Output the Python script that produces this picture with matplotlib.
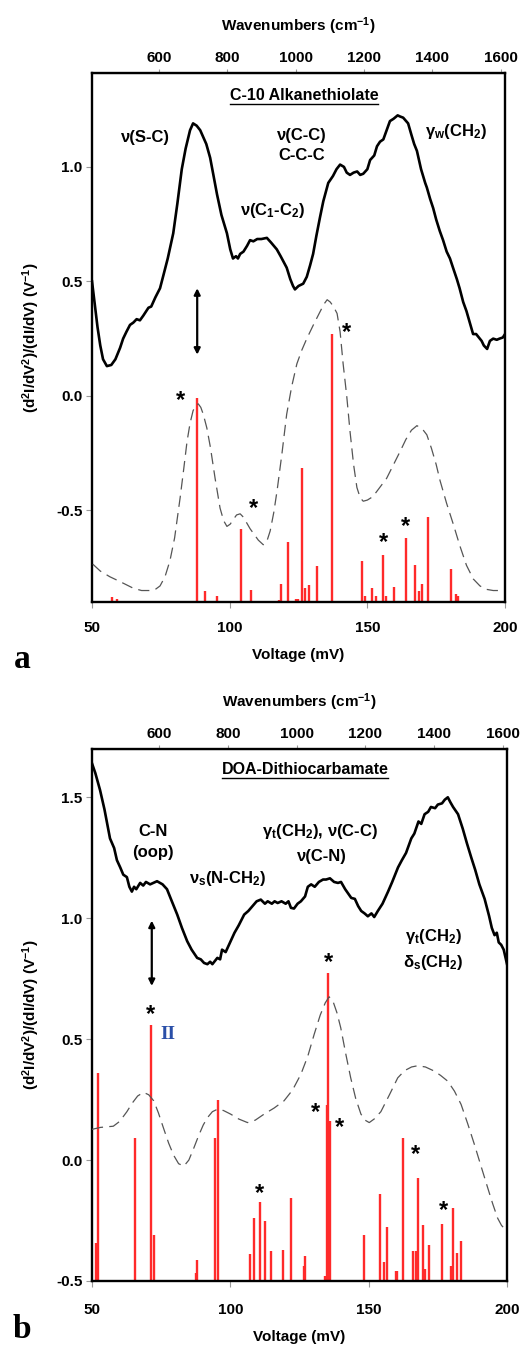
import numpy as np
import matplotlib
matplotlib.use("Agg")
import matplotlib.pyplot as plt
from matplotlib.ticker import FormatStrFormatter

plt.rcParams["font.family"] = ["Liberation Sans", "DejaVu Sans"]
plt.rcParams["font.weight"] = "bold"
plt.rcParams["mathtext.default"] = "regular"
plt.rcParams["axes.unicode_minus"] = False

MEV_TO_CM = 8.0655  # 1 mV -> cm-1

# =========================================================
# DATA  (a) C-10 alkanethiolate
# =========================================================

a_exp_v = [50.0, 51.0, 52.0, 53.0, 54.0, 55.4, 57.0, 58.5, 60.2, 61.3, 62.5, 63.8, 65.0, 66.2,
           67.4, 68.6, 70.5, 71.5, 73.0, 74.7, 76.0, 77.5, 79.5, 81.0, 82.6, 84.0, 85.6, 86.7,
           88.0, 89.3, 90.4, 91.5, 92.9, 94.0, 95.4, 97.0, 99.0, 100.2, 101.2, 102.3, 103.0,
           103.8, 105.0, 106.3, 107.4, 108.6, 110.0, 111.5, 113.5, 115.0, 117.1, 118.5, 120.7,
           122.0, 123.0, 123.7, 125.0, 126.7, 128.0, 129.2, 130.3, 131.5, 132.8, 134.0, 135.8,
           137.5, 138.8, 140.1, 141.5, 142.5, 143.7, 145.0, 146.3, 147.4, 148.5, 150.0, 151.0,
           152.5, 153.5, 154.6, 155.8, 157.0, 158.2, 159.5, 161.0, 161.9, 163.0, 164.8, 166.0,
           167.0, 168.0, 169.5, 171.0, 171.6, 172.8, 173.9, 175.0, 176.3, 177.5, 178.8, 180.0,
           181.1, 182.5, 183.5, 184.8, 186.0, 187.2, 188.4, 189.5, 190.5, 191.5, 192.3, 193.5,
           194.5, 195.7, 197.0, 198.0, 199.2, 200.0]
a_exp_y = [0.50, 0.40, 0.30, 0.22, 0.16, 0.13, 0.135, 0.16, 0.21, 0.25, 0.28, 0.31, 0.32, 0.335,
           0.33, 0.35, 0.385, 0.39, 0.43, 0.47, 0.53, 0.60, 0.71, 0.84, 0.99, 1.08, 1.16, 1.19,
           1.18, 1.16, 1.13, 1.10, 1.04, 0.97, 0.88, 0.79, 0.71, 0.64, 0.60, 0.61, 0.60,
           0.62, 0.63, 0.655, 0.68, 0.675, 0.685, 0.685, 0.69, 0.67, 0.64, 0.61, 0.56,
           0.51, 0.48, 0.465, 0.48, 0.49, 0.52, 0.57, 0.62, 0.70, 0.78, 0.85, 0.93,
           0.96, 0.99, 1.01, 1.00, 0.975, 0.965, 0.975, 0.98, 0.965, 0.97, 0.99, 1.03,
           1.05, 1.09, 1.11, 1.12, 1.16, 1.20, 1.21, 1.225, 1.22, 1.215, 1.19, 1.14,
           1.10, 1.07, 0.99, 0.93, 0.91, 0.86, 0.82, 0.77, 0.72, 0.68, 0.63, 0.60,
           0.56, 0.51, 0.47, 0.41, 0.37, 0.32, 0.27, 0.27, 0.255, 0.24, 0.22, 0.205,
           0.24, 0.25, 0.245, 0.25, 0.255, 0.27]

a_sim_v = [50.3, 53.0, 56.5, 60.0, 65.0, 68.0, 71.0, 73.0, 74.7, 76.5, 78.3, 80.0, 82.0, 83.3,
           84.5, 85.6, 86.7, 87.7, 88.6, 89.5, 90.4, 91.7, 93.0, 94.7, 96.5, 97.8, 99.0, 100.2,
           101.3, 102.5, 103.8, 105.0, 106.2, 107.4, 108.6, 110.4, 112.2, 113.5, 114.7, 116.0,
           117.2, 119.0, 120.7, 122.5, 124.4, 126.2, 128.0, 130.4, 132.5, 134.2, 135.4, 136.5,
           137.7, 139.0, 140.1, 141.2, 142.5, 143.7, 145.0, 146.2, 147.4, 148.5, 150.0, 152.0,
           154.5, 157.0, 159.5, 162.0, 164.0, 166.0, 168.0, 170.0, 171.6, 173.3, 175.0, 176.4,
           178.8, 181.2, 183.6, 186.0, 188.5, 190.9, 193.3, 195.7, 199.4]
a_sim_y = [-0.735, -0.765, -0.79, -0.81, -0.84, -0.85, -0.85, -0.845, -0.83, -0.79, -0.72, -0.62,
           -0.445, -0.32, -0.20, -0.12, -0.065, -0.04, -0.035, -0.05, -0.08, -0.14, -0.225, -0.36,
           -0.49, -0.545, -0.57, -0.56, -0.54, -0.52, -0.515, -0.53, -0.555, -0.58, -0.60, -0.63,
           -0.65, -0.635, -0.59, -0.51, -0.415, -0.25, -0.08, 0.04, 0.14, 0.20, 0.25, 0.31, 0.36,
           0.40, 0.42, 0.41, 0.39, 0.36, 0.28, 0.14, 0.0, -0.155, -0.30, -0.40, -0.445, -0.46,
           -0.455, -0.44, -0.40, -0.36, -0.30, -0.24, -0.19, -0.15, -0.13, -0.145, -0.17, -0.23,
           -0.30, -0.37, -0.47, -0.56, -0.655, -0.74, -0.80, -0.83, -0.845, -0.85, -0.85]

a_bar_v = [57.2, 59.2, 88.0, 91.0, 95.5, 102.0, 104.0, 107.9, 110.0, 117.8, 118.5, 121.0, 124.0,
           124.8, 126.2, 127.4, 128.8, 131.6, 137.1, 146.0, 148.0, 149.0, 151.6, 153.0, 155.6,
           156.8, 159.8, 164.0, 167.2, 168.9, 169.8, 172.1, 180.3, 182.2, 182.8, 183.6]
a_bar_h = [-0.88, -0.885, -0.01, -0.85, -0.875, -0.895, -0.58, -0.846, -0.895, -0.89, -0.82,
           -0.64, -0.885, -0.885, -0.316, -0.84, -0.825, -0.745, 0.27, -0.895, -0.72, -0.875,
           -0.84, -0.875, -0.695, -0.875, -0.835, -0.62, -0.74, -0.85, -0.82, -0.53, -0.757,
           -0.865, -0.875, -0.895]

a_star_v = [82.0, 108.6, 142.6, 155.8, 163.7]
a_star_y = [-0.02, -0.49, 0.275, -0.64, -0.57]

# =========================================================
# DATA  (b) DOA-dithiocarbamate
# =========================================================

b_exp_v = [50.0, 51.2, 52.9, 54.5, 56.5, 58.0, 59.0, 60.2, 61.3, 62.6, 63.5, 64.4, 65.2, 66.0,
           67.4, 68.5, 69.5, 71.0, 73.5, 75.5, 77.1, 78.5, 80.8, 82.5, 84.4, 86.0, 88.0, 89.3,
           90.5, 91.7, 92.7, 93.5, 95.3, 96.3, 97.0, 98.3, 100.1, 101.5, 103.0, 105.0, 106.5,
           108.0, 109.5, 111.0, 112.5, 113.5, 115.0, 116.0, 117.1, 118.5, 120.0, 121.0, 121.9,
           123.0, 124.3, 125.5, 127.0, 128.0, 129.2, 130.5, 132.0, 133.5, 134.6, 136.0, 137.5,
           138.9, 140.0, 141.5, 143.7, 145.0, 146.2, 147.3, 148.5, 149.7, 151.0, 152.0, 153.3,
           155.0, 157.0, 158.5, 160.6, 162.0, 163.5, 165.4, 166.5, 168.0, 169.0, 170.2, 171.5,
           172.5, 174.0, 175.0, 176.5, 177.5, 178.6, 179.5, 180.5, 182.3, 184.0, 185.5, 187.1,
           188.5, 190.0, 191.9, 193.5, 194.5, 195.5, 196.3, 197.0, 197.9, 198.8, 200.0]
b_exp_y = [1.64, 1.60, 1.53, 1.45, 1.33, 1.29, 1.24, 1.21, 1.18, 1.17, 1.13, 1.11, 1.13, 1.12,
           1.146, 1.135, 1.15, 1.14, 1.153, 1.14, 1.12, 1.08, 1.015, 0.96, 0.905, 0.87, 0.836, 0.83,
           0.815, 0.81, 0.82, 0.81, 0.836, 0.83, 0.87, 0.86, 0.905, 0.94, 0.97, 1.015, 1.03,
           1.05, 1.07, 1.077, 1.06, 1.07, 1.06, 1.07, 1.063, 1.07, 1.06, 1.07, 1.043,
           1.04, 1.06, 1.07, 1.09, 1.13, 1.14, 1.13, 1.15, 1.16, 1.16, 1.165, 1.15,
           1.146, 1.15, 1.12, 1.084, 1.08, 1.05, 1.03, 1.02, 1.008, 1.02, 1.005, 1.03,
           1.06, 1.11, 1.15, 1.21, 1.24, 1.27, 1.33, 1.35, 1.40, 1.39, 1.43, 1.44,
           1.46, 1.455, 1.47, 1.475, 1.49, 1.50, 1.48, 1.46, 1.43, 1.37, 1.31, 1.25,
           1.20, 1.14, 1.08, 1.01, 0.96, 0.93, 0.94, 0.90, 0.89, 0.87, 0.81]

b_sim_v = [50.0, 53.0, 57.7, 60.0, 62.6, 64.5, 66.5, 68.6, 70.5, 72.3, 74.0, 75.9, 77.7, 79.5,
           81.3, 83.2, 85.0, 86.8, 88.5, 90.2, 91.7, 93.5, 95.3, 97.5, 100.1, 103.0, 106.2, 109.0,
           112.2, 115.8, 119.4, 122.5, 125.5, 128.0, 130.3, 132.5, 134.3, 135.7, 137.0, 138.5,
           139.9, 141.7, 143.5, 145.3, 147.2, 148.7, 150.2, 152.0, 154.4, 157.5, 160.5, 163.0,
           165.5, 167.7, 170.5, 173.7, 176.0, 178.6, 181.0, 183.4, 185.8, 188.2, 190.6, 193.0,
           194.8, 196.6, 198.0, 199.6]
b_sim_y = [0.127, 0.135, 0.14, 0.16, 0.20, 0.235, 0.265, 0.28, 0.27, 0.245, 0.195, 0.13, 0.07,
           0.02, -0.015, -0.025, 0.0, 0.05, 0.10, 0.145, 0.175, 0.20, 0.21, 0.205, 0.19, 0.17,
           0.155, 0.165, 0.19, 0.215, 0.245, 0.29, 0.355, 0.43, 0.52, 0.60, 0.65, 0.675, 0.66,
           0.61, 0.547, 0.44, 0.34, 0.255, 0.19, 0.165, 0.155, 0.17, 0.20, 0.27, 0.34, 0.37,
           0.385, 0.39, 0.385, 0.368, 0.35, 0.326, 0.285, 0.23, 0.15, 0.065, -0.025, -0.114,
           -0.18, -0.24, -0.27, -0.29]

b_bar_v = [51.6, 52.2, 65.4, 71.2, 72.5, 87.6, 88.1, 94.5, 95.4, 107.1, 108.5, 110.7, 112.5,
           114.6, 118.9, 122.0, 126.6, 127.1, 134.2, 134.8, 135.4, 136.0, 148.2, 154.1, 155.5,
           156.5, 159.9, 160.3, 162.4, 166.1, 167.1, 167.7, 169.7, 170.5, 171.8, 176.6, 179.7,
           180.5, 181.8, 183.4]
b_bar_h = [-0.344, 0.36, 0.092, 0.558, -0.31, -0.465, -0.415, 0.09, 0.247, -0.39, -0.238,
           -0.174, -0.25, -0.376, -0.37, -0.158, -0.44, -0.397, -0.48, 0.227, 0.774, 0.161,
           -0.31, -0.142, -0.42, -0.277, -0.46, -0.46, 0.092, -0.376, -0.376, -0.073, -0.27,
           -0.45, -0.353, -0.263, -0.44, -0.197, -0.385, -0.335]

b_star_v = [71.2, 110.7, 130.9, 135.4, 139.6, 166.8, 176.9]
b_star_y = [0.60, -0.14, 0.198, 0.815, 0.134, 0.024, -0.207]

WN_TICKS = [600, 800, 1000, 1200, 1400, 1600]
YLABEL = "(d$^{2}$I/dV$^{2}$)/(dI/dV) (V$^{-1}$)"


# =========================================================
# HELPERS
# =========================================================

def style_panel(ax, ylim, yticks, xpad):
    ax.set_xlim(50, 200)
    ax.set_ylim(*ylim)
    ax.set_xticks([50, 100, 150, 200])
    ax.set_yticks(yticks)
    ax.yaxis.set_major_formatter(FormatStrFormatter("%.1f"))
    for s in ax.spines.values():
        s.set_linewidth(1.7)
    ax.tick_params(axis="x", direction="out", length=4, width=0.8, color="#999999",
                   pad=xpad, labelsize=11)
    ax.tick_params(axis="y", direction="out", length=4, width=0.8, color="#999999",
                   pad=3, labelsize=11)
    ax.set_xlabel("Voltage (mV)", fontsize=11, fontweight="bold", labelpad=9)
    ax.set_ylabel(YLABEL, fontsize=11, fontweight="bold", labelpad=10)

    sec = ax.secondary_xaxis("top", functions=(lambda v: v * MEV_TO_CM,
                                                lambda w: w / MEV_TO_CM))
    sec.set_xticks(WN_TICKS)
    sec.tick_params(direction="out", length=3, width=0.8, color="#999999", pad=3,
                    labelsize=11)
    sec.set_xlabel("Wavenumbers (cm$^{-1}$)", fontsize=11, fontweight="bold", labelpad=14)
    for lab in sec.get_xticklabels() + ax.get_xticklabels() + ax.get_yticklabels():
        lab.set_fontweight("bold")


def draw_panel(ax, bar_v, bar_h, sim_v, sim_y, exp_v, exp_y, star_v, star_y, base):
    ax.vlines(bar_v, base, bar_h, colors="#ff2a2a", linewidth=1.7, zorder=2)
    ax.plot(sim_v, sim_y, color="#555555", lw=0.9, dashes=(9, 5), zorder=3)
    ax.plot(exp_v, exp_y, color="black", lw=1.9, zorder=4)
    for sv, sy in zip(star_v, star_y):
        ax.text(sv, sy, "*", fontsize=17, fontweight="bold", ha="center", va="center",
                zorder=5)


def underline_title(ax, fig, x, y, text):
    t = ax.text(x, y, text, transform=ax.transData, ha="center", va="center",
                fontsize=11.5, fontweight="bold")
    fig.canvas.draw()
    bb = t.get_window_extent().transformed(fig.transFigure.inverted())
    fig.add_artist(plt.Line2D([bb.x0, bb.x1], [bb.y0 - 0.0005, bb.y0 - 0.0005],
                              transform=fig.transFigure, color="black", lw=1.0))


# =========================================================
# PLOT
# =========================================================

fig = plt.figure(figsize=(5.24, 13.47), dpi=100)
ax1 = fig.add_axes([0.1756, 0.5531, 0.7882, 0.3927])
ax2 = fig.add_axes([0.1756, 0.0490, 0.7920, 0.3950])

# panel a
draw_panel(ax1, a_bar_v, a_bar_h, a_sim_v, a_sim_y, a_exp_v, a_exp_y,
           a_star_v, a_star_y, -0.9)
style_panel(ax1, (-0.9, 1.41), [-0.5, 0.0, 0.5, 1.0], 10)
ax1.annotate("", xy=(88.2, 0.47), xytext=(88.2, 0.18),
             arrowprops=dict(arrowstyle="<|-|>", lw=1.6, color="black", mutation_scale=9,
                             shrinkA=0, shrinkB=0))
lab_kw = dict(ha="center", va="center", fontsize=12, fontweight="bold")
ax1.text(69.5, 1.13, "ν(S-C)", **lab_kw)
ax1.text(115.6, 0.81, "ν(C$_1$-C$_2$)", **lab_kw)
ax1.text(126.2, 1.135, "ν(C-C)", **lab_kw)
ax1.text(126.2, 1.05, "C-C-C", **lab_kw)
ax1.text(182.2, 1.155, "γ$_w$(CH$_2$)", **lab_kw)

# panel b
draw_panel(ax2, b_bar_v, b_bar_h, b_sim_v, b_sim_y, b_exp_v, b_exp_y,
           b_star_v, b_star_y, -0.5)
style_panel(ax2, (-0.5, 1.7), [-0.5, 0.0, 0.5, 1.0, 1.5], 12)
ax2.annotate("", xy=(71.6, 0.99), xytext=(71.6, 0.72),
             arrowprops=dict(arrowstyle="<|-|>", lw=1.6, color="black", mutation_scale=9,
                             shrinkA=0, shrinkB=0))
ax2.text(77.5, 0.52, "II", color="#2a4fa8", fontsize=14, fontweight="bold",
         family="Liberation Serif", ha="center", va="center")
ax2.text(72.0, 1.36, "C-N", **lab_kw)
ax2.text(72.0, 1.27, "(oop)", **lab_kw)
ax2.text(99.0, 1.165, "ν$_s$(N-CH$_2$)", **lab_kw)
ax2.text(132.5, 1.36, "γ$_t$(CH$_2$), ν(C-C)", **lab_kw)
ax2.text(133.0, 1.255, "ν(C-N)", **lab_kw)
ax2.text(173.5, 0.925, "γ$_t$(CH$_2$)", **lab_kw)
ax2.text(173.5, 0.815, "δ$_s$(CH$_2$)", **lab_kw)

underline_title(ax1, fig, 127.0, 1.31, "C-10 Alkanethiolate")
underline_title(ax2, fig, 127.0, 1.615, "DOA-Dithiocarbamate")

fig.text(22 / 524, 1 - 660 / 1347, "a", fontsize=24, fontweight="bold",
         family="Liberation Serif", ha="center", va="center")
fig.text(22 / 524, 1 - 1345 / 1347, "b", fontsize=24, fontweight="bold",
         family="Liberation Serif", ha="center", va="bottom")

plt.savefig("out.png", dpi=100)
plt.close()
